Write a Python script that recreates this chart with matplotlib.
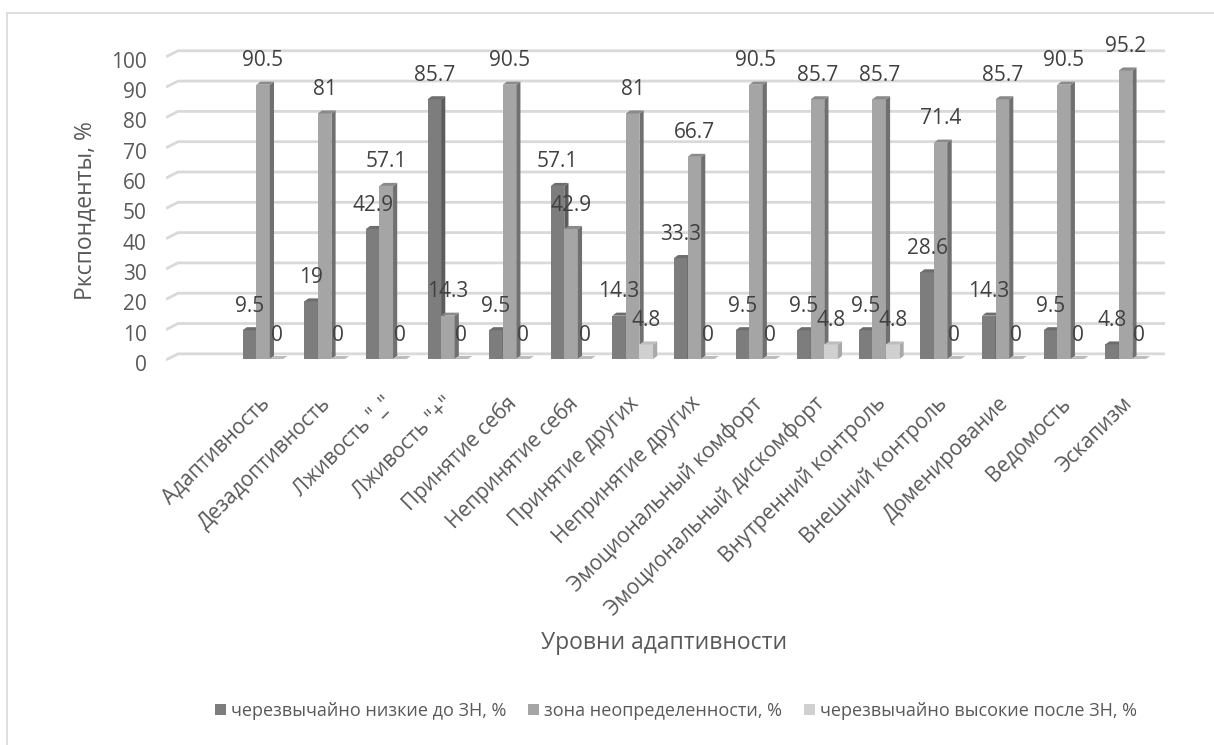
import numpy as np
import matplotlib.pyplot as plt
from matplotlib.patches import Polygon, Patch
from matplotlib.lines import Line2D
from matplotlib.transforms import ScaledTranslation

plt.rcParams['font.family'] = ['Open Sans', 'DejaVu Sans']

categories = [
    'Адаптивность', 'Дезадоптивность', 'Лживость "_"', 'Лживость "+"',
    'Принятие себя', 'Непринятие себя', 'Принятие других', 'Непринятие других',
    'Эмоциональный комфорт', 'Эмоциональный дискомфорт', 'Внутренний контроль',
    'Внешний контроль', 'Доменирование', 'Ведомость', 'Эскапизм',
]
low_before = [9.5, 19, 42.9, 85.7, 9.5, 57.1, 14.3, 33.3, 9.5, 9.5, 9.5, 28.6, 14.3, 9.5, 4.8]
uncertain = [90.5, 81, 57.1, 14.3, 90.5, 42.9, 81, 66.7, 90.5, 85.7, 85.7, 71.4, 85.7, 90.5, 95.2]
high_after = [0, 0, 0, 0, 0, 0, 4.8, 0, 0, 4.8, 4.8, 0, 0, 0, 0]

series_names = ['черезвычайно низкие до ЗН, %', 'зона неопределенности, %',
                'черезвычайно высокие после ЗН, %']
y_ticks = list(range(0, 101, 10))

# front / side / top shades for each series
shades = [
    ('#7d7d7d', '#5c5c5c', '#6d6d6d'),
    ('#a5a5a5', '#707070', '#8a8a8a'),
    ('#d0d0d0', '#a9a9a9', '#bdbdbd'),
]
TEXT = '#595959'
GRID = '#d9d9d9'

fig = plt.figure(figsize=(12.14, 7.45), dpi=100)
W, H = 1214, 745

# plot area in pixels: x 166..1165, y 45..365
ax = fig.add_axes([166 / W, (H - 365) / H, 999 / W, 320 / H])
ax.set_xlim(-1.575, 14.64)
ax.set_ylim(-1.98, 103.6)
for sp in ax.spines.values():
    sp.set_visible(False)

# pseudo-3d gridlines: short slanted stub on the left, then the back wall line
x_left = -1.575
g_dx, g_dy = 0.195, 2.0
for v in y_ticks:
    ax.plot([x_left, x_left + g_dx, 14.64], [v - 0.3, v + 1.7, v + 1.7],
            color=GRID, lw=2, solid_capstyle='butt', zorder=1)

bar_w = 0.22
d_x, d_y = 0.068, 1.0
offsets = [-bar_w, 0.0, bar_w]
z = 2
for i in range(len(categories)):
    for s, vals in enumerate([low_before, uncertain, high_after]):
        v = vals[i]
        x0 = i + offsets[s] - bar_w / 2
        x1 = x0 + bar_w
        front, side, top = shades[s]
        ax.add_patch(Polygon([(x0, 0), (x1, 0), (x1, v), (x0, v)],
                             closed=True, facecolor=front, edgecolor='none', zorder=z))
        ax.add_patch(Polygon([(x1, 0), (x1 + d_x, d_y), (x1 + d_x, v + d_y), (x1, v)],
                             closed=True, facecolor=side, edgecolor='none', zorder=z))
        ax.add_patch(Polygon([(x0, v), (x0 + d_x, v + d_y), (x1 + d_x, v + d_y), (x1, v)],
                             closed=True, facecolor=top, edgecolor='none', zorder=z))
        z += 1

# value labels
for s, vals in enumerate([low_before, uncertain, high_after]):
    for i, v in enumerate(vals):
        ax.text(i + offsets[s], v + 7.9, f'{v:g}', ha='center', va='center',
                fontsize=15, color='#404040', zorder=200)

ax.set_yticks([v - 1.3 for v in y_ticks], [str(v) for v in y_ticks])
ax.set_xticks(range(len(categories)), categories, rotation=45, ha='right',
              rotation_mode='anchor')
ax.tick_params(axis='y', length=0, pad=14, labelsize=15, labelcolor=TEXT)
ax.tick_params(axis='x', length=0, pad=20, labelsize=15, labelcolor=TEXT)
shift = ScaledTranslation(-3 / 72, 0, fig.dpi_scale_trans)
for lbl in ax.get_xticklabels():
    lbl.set_transform(lbl.get_transform() + shift)

fig.text(86 / W, 1 - 211 / H, 'Ркспонденты, %', rotation=90, ha='center', va='center',
         fontsize=16.5, color=TEXT)
fig.text(664 / W, 1 - 643 / H, 'Уровни адаптивности', ha='center', va='center',
         fontsize=16.5, color=TEXT)

handles = [Patch(facecolor=shades[k][0], edgecolor='none') for k in range(3)]
fig.legend(handles, series_names, loc='center', bbox_to_anchor=(676 / W, 1 - 711 / H),
           ncol=3, frameon=False, fontsize=13, labelcolor=TEXT,
           handlelength=0.6, handleheight=0.6, handletextpad=0.3, columnspacing=1.2)

# chart frame (left and top edges)
fig.add_artist(Line2D([7 / W, 7 / W], [0, 1 - 13 / H], color=GRID, lw=1.2))
fig.add_artist(Line2D([7 / W, 1], [1 - 13 / H, 1 - 13 / H], color=GRID, lw=1.2))

fig.savefig('out.png', dpi=100)
